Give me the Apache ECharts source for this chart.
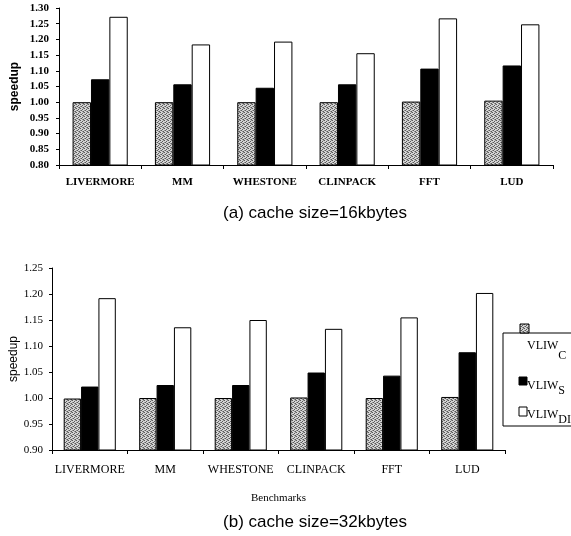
<!DOCTYPE html>
<html>
<head>
<meta charset="utf-8">
<script src="https://cdn.jsdelivr.net/npm/echarts@6/dist/echarts.min.js"></script>
<style>html,body{margin:0;padding:0;background:#fff}#c{width:571px;height:536px}</style>
</head>
<body>
<div id="c"></div>
<script>
// ---- data ----
var categories = ['LIVERMORE', 'MM', 'WHESTONE', 'CLINPACK', 'FFT', 'LUD'];
var seriesNames = ['VLIW_C', 'VLIW_S', 'VLIW_DIS'];
// (a) cache size = 16kbytes
var a_vliwC   = [1.00, 1.00, 1.00, 1.00, 1.002, 1.005];
var a_vliwS   = [1.073, 1.057, 1.046, 1.057, 1.107, 1.117];
var a_vliwDIS = [1.272, 1.184, 1.193, 1.156, 1.267, 1.248];
// (b) cache size = 32kbytes
var b_vliwC   = [0.999, 1.00, 1.00, 1.001, 1.00, 1.002];
var b_vliwS   = [1.022, 1.025, 1.025, 1.049, 1.043, 1.088];
var b_vliwDIS = [1.192, 1.136, 1.150, 1.133, 1.155, 1.202];
var yTicksA = {min: 0.80, max: 1.30, step: 0.05};
var yTicksB = {min: 0.90, max: 1.25, step: 0.05};
var titleA = '(a) cache size=16kbytes';
var titleB = '(b) cache size=32kbytes';

// ---- pattern for VLIW_C ----
function makePattern() {
  var cv = document.createElement('canvas');
  cv.width = 4; cv.height = 4;
  var ctx = cv.getContext('2d');
  ctx.fillStyle = '#d4d4d4';
  ctx.fillRect(0, 0, 4, 4);
  ctx.fillStyle = '#5a5a5a';
  ctx.fillRect(0, 0, 1, 1);
  ctx.fillRect(2, 1, 1, 1);
  ctx.fillRect(1, 2, 1, 1);
  ctx.fillRect(3, 3, 1, 1);
  ctx.fillStyle = '#909090';
  ctx.fillRect(2, 3, 1, 1);
  ctx.fillRect(0, 2, 1, 1);
  ctx.fillRect(3, 0, 1, 1);
  return cv;
}
var pat = {image: makePattern(), repeat: 'repeat'};
var fills = [pat, '#000', '#fff'];

var chart = echarts.init(document.getElementById('c'), null, {renderer: 'canvas'});

function yAxis(gi, t, font, bold) {
  return {
    type: 'value', gridIndex: gi, min: t.min, max: t.max, interval: t.step,
    name: 'speedup', nameLocation: 'middle', nameGap: gi === 0 ? 38 : 32, nameRotate: 90, nameMoveOverlap: false,
    nameTextStyle: {fontFamily: 'Liberation Sans', fontSize: 12, color: '#000', fontWeight: gi === 0 ? 'bold' : 'normal'},
    axisLine: {show: true, lineStyle: {color: '#000', width: 1}},
    axisTick: {show: true, length: 3, lineStyle: {color: '#000'}},
    splitLine: {show: false},
    axisLabel: {fontFamily: font, fontSize: 11, fontWeight: bold ? 'bold' : 'normal', color: '#000', margin: gi === 0 ? 10 : 9,
      formatter: function (v) { return v.toFixed(2); }}
  };
}
function xAxis(gi, bold, margin) {
  return {
    type: 'category', gridIndex: gi, data: categories,
    axisLine: {show: true, lineStyle: {color: '#000', width: 1}},
    axisTick: {show: true, length: 4, lineStyle: {color: '#000'}},
    axisLabel: {interval: 0, fontFamily: 'Liberation Serif', fontSize: gi === 0 ? 11 : 12, fontWeight: bold ? 'bold' : 'normal', color: '#000', margin: margin},
    name: gi === 1 ? 'Benchmarks' : '', nameLocation: 'middle', nameGap: 43, nameMoveOverlap: false,
    nameTextStyle: {fontFamily: 'Liberation Serif', fontSize: 11, color: '#000'}
  };
}
var dataA = [a_vliwC, a_vliwS, a_vliwDIS];
var dataB = [b_vliwC, b_vliwS, b_vliwDIS];
var series = [];
[dataA, dataB].forEach(function (set, gi) {
  set.forEach(function (arr, si) {
    series.push({
      type: 'bar', name: seriesNames[si], xAxisIndex: gi, yAxisIndex: gi, data: arr,
      barGap: '0%', barCategoryGap: gi === 0 ? '33%' : '31%',
      itemStyle: {color: fills[si], borderColor: '#000', borderWidth: 1},
      emphasis: {disabled: true}, animation: false
    });
  });
});

var legendX = 519;
chart.setOption({
  animation: false,
  title: [
    {text: titleA, left: 310, top: 200, textAlign: 'center', textStyle: {fontFamily: 'Liberation Sans', fontSize: 17, fontWeight: 'normal', color: '#000'}},
    {text: titleB, left: 310, top: 509, textAlign: 'center', textStyle: {fontFamily: 'Liberation Sans', fontSize: 17, fontWeight: 'normal', color: '#000'}}
  ],
  grid: [
    {left: 59, top: 8, width: 494, height: 157, outerBoundsMode: 'none', containLabel: false},
    {left: 52, top: 268, width: 453, height: 182, outerBoundsMode: 'none', containLabel: false}
  ],
  xAxis: [xAxis(0, true, 12), xAxis(1, false, 14)],
  yAxis: [yAxis(0, yTicksA, 'Liberation Serif', true), yAxis(1, yTicksB, 'Liberation Serif', false)],
  series: series,
  graphic: [
    {type: 'rect', shape: {x: 503, y: 333, width: 80, height: 93}, style: {fill: '#fff', stroke: '#000', lineWidth: 1}},
    {type: 'rect', shape: {x: legendX + 1, y: 324, width: 9, height: 9}, style: {fill: pat, stroke: '#000', lineWidth: 1}},
    {type: 'rect', shape: {x: legendX, y: 377, width: 8, height: 8}, style: {fill: '#000', stroke: '#000', lineWidth: 1}},
    {type: 'rect', shape: {x: legendX, y: 407, width: 8, height: 9}, style: {fill: '#fff', stroke: '#000', lineWidth: 1}},
    {type: 'text', x: 527, y: 340, style: {text: '{m|VLIW}{s|C}', rich: {m: {fontFamily: 'Liberation Serif', fontSize: 12, fill: '#000', verticalAlign: 'top'}, s: {fontFamily: 'Liberation Serif', fontSize: 12, fill: '#000', padding: [10, 0, 0, 0]}}}},
    {type: 'text', x: 527, y: 375, style: {text: '{m|VLIW}{s|S}', rich: {m: {fontFamily: 'Liberation Serif', fontSize: 12, fill: '#000'}, s: {fontFamily: 'Liberation Serif', fontSize: 12, fill: '#000', padding: [10, 0, 0, 0]}}}},
    {type: 'text', x: 527, y: 404, style: {text: '{m|VLIW}{s|DIS}', rich: {m: {fontFamily: 'Liberation Serif', fontSize: 12, fill: '#000'}, s: {fontFamily: 'Liberation Serif', fontSize: 12, fill: '#000', padding: [10, 0, 0, 0]}}}}
  ]
});
</script>
</body>
</html>
